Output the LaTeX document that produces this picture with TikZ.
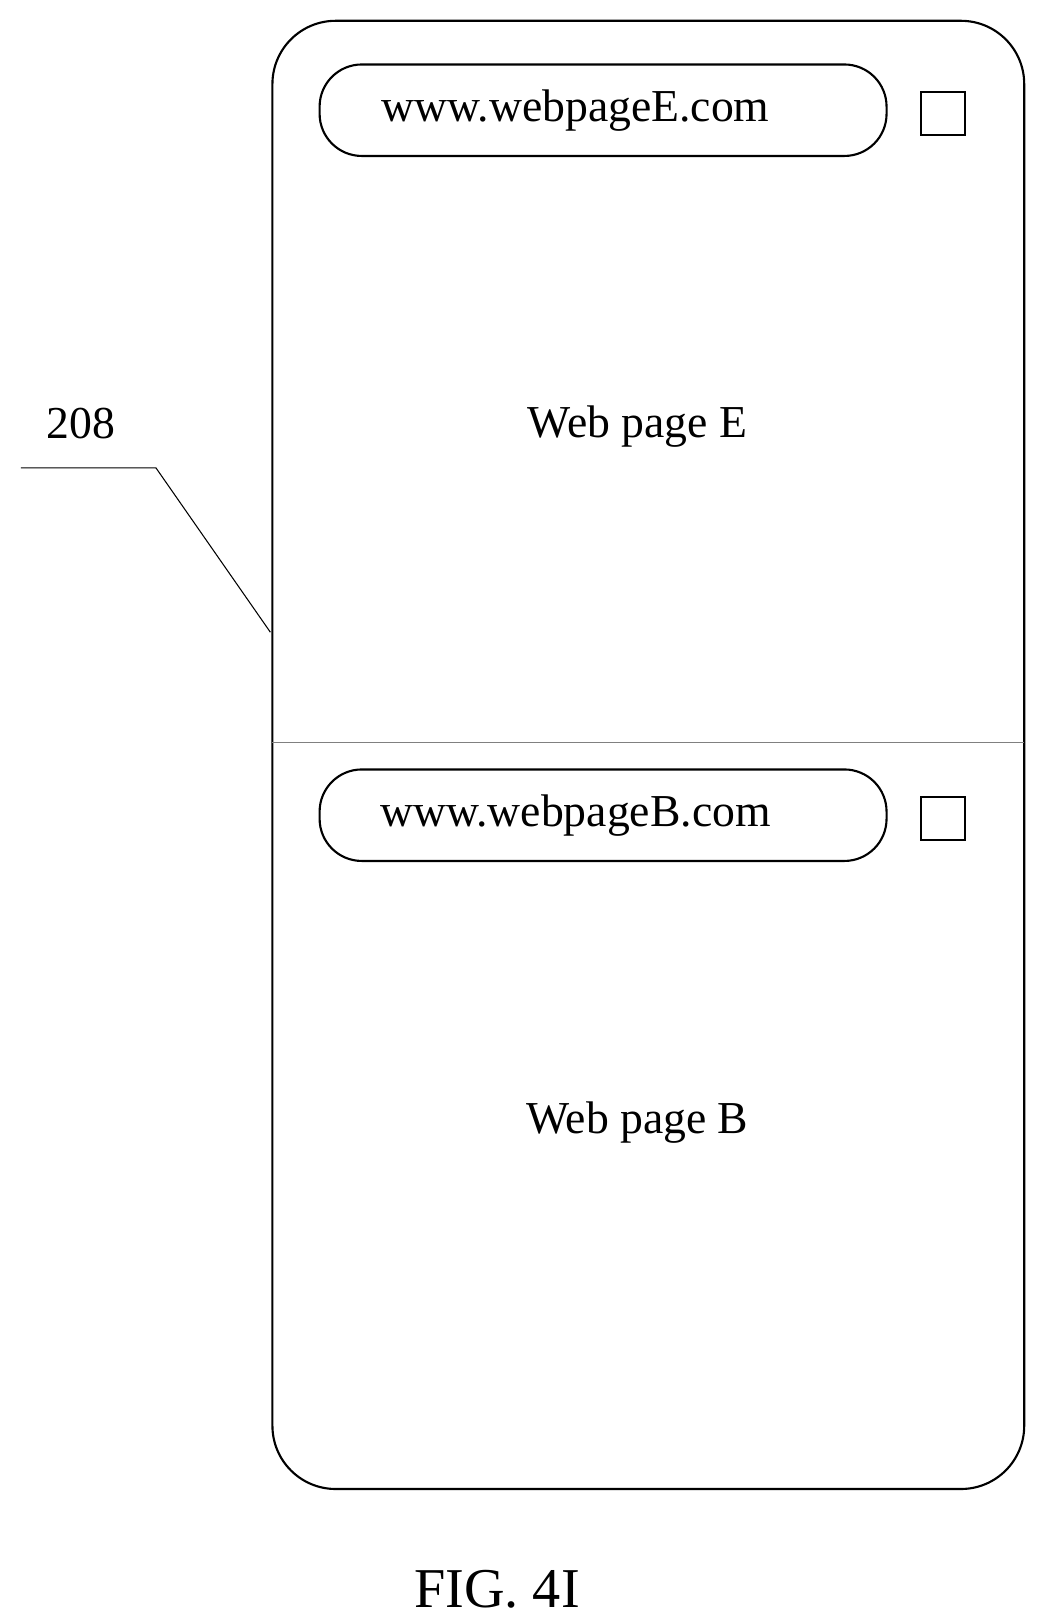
\documentclass[tikz,border=0pt]{standalone}
\usepackage{fontspec}
\setmainfont{Liberation Serif}
\tikzstyle{urlbar}=[draw,rounded corners=24pt,minimum width=11.34cm,minimum height=1.83cm,inner sep=0,font=\fontsize{26}{30}\selectfont]
\tikzstyle{btn}=[draw,minimum size=0.87cm,inner sep=0]
\tikzstyle{txt}=[font=\fontsize{26}{30}\selectfont]
\begin{document}
\begin{tikzpicture}[x=0.0208cm,y=-0.0208cm,line width=1.2pt]
\useasboundingbox (0,0) rectangle (1000,1558);

\draw[rounded corners=36pt] (262,20) rectangle (985,1432);
\draw[gray,line width=0.5pt] (262,714) -- (985,714);

\node[urlbar] (ue) at (580,106) {\hspace*{-1.1cm}www.webpageE.com};
\node[btn] (be) at (907,109) {};
\node[txt] (pe) at (613,410) {Web page E};

\node[urlbar] (ub) at (580,784) {\hspace*{-1.1cm}www.webpageB.com};
\node[btn] (bb) at (907,787) {};
\node[txt] (pb) at (613,1080) {Web page B};

\node[txt] (lbl) at (78,407) {208};
\coordinate (l1) at (20,450);
\coordinate (l2) at (150,450);
\coordinate (l3) at (260,608);
\draw[line width=0.6pt] (l1) -- (l2) -- (l3);

\node[font=\fontsize{32}{36}\selectfont] (fig) at (478,1528) {FIG. 4I};
\end{tikzpicture}
\end{document}
